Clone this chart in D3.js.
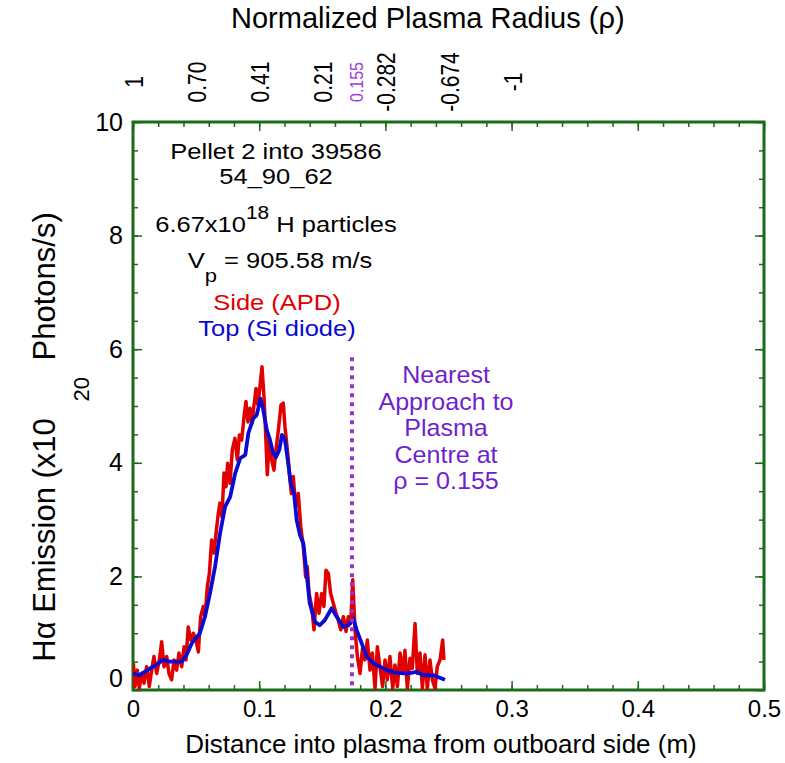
<!DOCTYPE html>
<html>
<head>
<meta charset="utf-8">
<script src="https://cdn.jsdelivr.net/npm/d3@7"></script>
<style>
  body { margin: 0; background: #fff; }
  text { font-family: Arial, "Liberation Sans", Helvetica, sans-serif; }
</style>
</head>
<body>
<script>
// Blue trace: Top (Si diode)
const blueDist = [0, 0.005, 0.016, 0.024, 0.029, 0.0386, 0.0425, 0.0465, 0.053, 0.057,
  0.061, 0.065, 0.069, 0.073, 0.077, 0.081, 0.085, 0.089, 0.0914, 0.0953,
  0.098, 0.101, 0.103, 0.106, 0.1086, 0.111, 0.1133, 0.116, 0.118, 0.1204,
  0.123, 0.125, 0.1276, 0.1297, 0.1323, 0.135, 0.1376, 0.14, 0.1442, 0.148,
  0.152, 0.1574, 0.1614, 0.1667, 0.1706, 0.1746, 0.1772, 0.1812, 0.1852, 0.1904,
  0.1983, 0.2063, 0.2169, 0.2248, 0.23, 0.238, 0.2472];
const blueVal = [0.29, 0.26, 0.41, 0.53, 0.50, 0.50, 0.62, 0.82, 1.0, 1.29,
  1.7, 2.17, 2.76, 3.23, 3.4, 3.82, 4.08, 4.14, 4.52, 4.78,
  4.84, 5.13, 4.96, 4.58, 4.4, 4.17, 4.1, 4.23, 4.49, 4.4,
  3.99, 3.64, 3.46, 2.99, 2.73, 2.58, 2.05, 1.53, 1.2, 1.14,
  1.23, 1.44, 1.29, 1.11, 1.14, 1.26, 1.06, 0.82, 0.59, 0.47,
  0.38, 0.31, 0.29, 0.32, 0.26, 0.26, 0.18];

// Red trace: Side (APD)
const redDist = [0.0003, 0.0016, 0.0034, 0.0050, 0.0069, 0.0087, 0.0108, 0.0129, 0.0148, 0.0166,
  0.0188, 0.0209, 0.0227, 0.0246, 0.0267, 0.0285, 0.0306, 0.0325, 0.0346, 0.0364,
  0.0386, 0.0404, 0.0420, 0.0438, 0.0457, 0.0478, 0.0499, 0.0518,
  0.0536, 0.0557, 0.0571, 0.0589, 0.0605, 0.0623, 0.0642, 0.0658, 0.0676, 0.0689,
  0.0705, 0.0721, 0.0737, 0.0750, 0.0769, 0.0787, 0.0808, 0.0827, 0.0843, 0.0861,
  0.0880, 0.0895, 0.0911, 0.0927, 0.0943, 0.0959, 0.0975, 0.0990, 0.1006, 0.1022,
  0.1038, 0.1051, 0.1064, 0.1080, 0.1099, 0.1117, 0.1133, 0.1152, 0.1173, 0.1191,
  0.1204, 0.1223, 0.1239, 0.1255, 0.1270, 0.1289, 0.1310, 0.1329, 0.1350, 0.1368,
  0.1381, 0.1395, 0.1416, 0.1434, 0.1455, 0.1474, 0.1495, 0.1513, 0.1529, 0.1548,
  0.1566, 0.1587, 0.1609, 0.1627, 0.1646, 0.1667, 0.1688, 0.1706, 0.1725, 0.1741,
  0.1759, 0.1778, 0.1799, 0.1820, 0.1838, 0.1857, 0.1878, 0.1896, 0.1918, 0.1936,
  0.1957, 0.1978, 0.1997, 0.2015, 0.2036, 0.2058, 0.2076, 0.2095, 0.2116, 0.2137,
  0.2155, 0.2174, 0.2195, 0.2213, 0.2235, 0.2253, 0.2274, 0.2293, 0.2314, 0.2332,
  0.2353, 0.2372, 0.2393, 0.2411, 0.2433, 0.2454, 0.2464];
const redVal = [0.47, 0.06, 0.35, 0.03, 0.29, 0.12, 0.41, 0.06, 0.35, 0.59,
  0.29, 0.53, 0.85, 0.41, 0.59, 0.29, 0.18, 0.53, 0.35, 0.65,
  0.41, 0.76, 0.53, 1.11, 0.88, 1.00, 0.88, 0.67,
  1.29, 1.47, 1.29, 1.82, 2.05, 2.64, 2.41, 2.76, 3.11, 3.29,
  3.05, 3.82, 3.58, 3.99, 3.64, 4.23, 4.43, 4.05, 4.49, 4.40,
  4.81, 5.08, 4.72, 4.96, 4.69, 5.02, 5.31, 5.02, 5.34, 5.69,
  5.16, 4.52, 3.79, 4.40, 4.05, 3.87, 4.23, 4.58, 5.02, 5.05,
  4.64, 4.23, 3.82, 3.46, 3.76, 3.23, 3.46, 2.88, 2.52, 1.99,
  2.17, 1.70, 1.47, 1.06, 1.70, 1.35, 1.70, 1.47, 2.11, 2.05,
  1.70, 1.53, 1.35, 1.23, 1.06, 1.29, 1.03, 1.29, 1.17, 1.94,
  1.06, 0.59, 0.29, 0.76, 0.53, 0.88, 0.35, 0.65, 0.03, 0.76,
  0.41, 0.06, 0.53, 0.18, 0.59, 0.03, 0.44, 0.06, 0.65, 0.29,
  0.70, 0.03, 0.56, 0.38, 1.17, 0.29, 0.65, 0.03, 0.62, 0.03,
  0.53, 0.18, 0.03, 0.41, 0.53, 0.88, 0.53];

const xTicks = [0, 0.1, 0.2, 0.3, 0.4, 0.5];
const yTicks = [0, 2, 4, 6, 8, 10];
// top axis: normalized radius at given distances
const rhoDist = [0, 0.05, 0.1, 0.15, 0.1735, 0.2, 0.25, 0.3];
const rhoLabels = ["1", "0.70", "0.41", "0.21", "0.155", "-0.282", "-0.674", "-1"];
const nearestDist = 0.1735;
const nearestTop = 5.86;

const W = 785, H = 763;
const green = "#1a6b1a";
const svg = d3.select("body").append("svg").attr("width", W).attr("height", H);

const x = d3.scaleLinear().domain([0, 0.5]).range([133, 764]);
const y = d3.scaleLinear().domain([0, 10]).range([690, 122]);
const minorX = d3.range(0, 0.5001, 0.02);
const minorY = d3.range(0, 10.001, 0.5);

svg.append("clipPath").attr("id", "clip")
  .append("rect").attr("x", 133).attr("y", 122).attr("width", 631).attr("height", 568);

function styleAxis(g) {
  g.select(".domain").remove();
  g.selectAll(".tick line").attr("stroke", green).attr("stroke-width", 1.5);
}

// minor ticks, all four sides
svg.append("g").attr("transform", "translate(0,690)")
  .call(d3.axisBottom(x).tickValues(minorX).tickSize(-5).tickFormat("")).call(styleAxis);
svg.append("g").attr("transform", "translate(0,122)")
  .call(d3.axisTop(x).tickValues(minorX).tickSize(-5).tickFormat("")).call(styleAxis);
svg.append("g").attr("transform", "translate(133,0)")
  .call(d3.axisLeft(y).tickValues(minorY).tickSize(-5).tickFormat("")).call(styleAxis);
svg.append("g").attr("transform", "translate(764,0)")
  .call(d3.axisRight(y).tickValues(minorY).tickSize(-5).tickFormat("")).call(styleAxis);

// major ticks + labels
const xAx = svg.append("g").attr("transform", "translate(0,690)")
  .call(d3.axisBottom(x).tickValues(xTicks).tickSize(-9).tickPadding(10).tickFormat(d3.format("")))
  .call(styleAxis);
xAx.selectAll("text").attr("font-size", 24).attr("fill", "#000");
svg.append("g").attr("transform", "translate(0,122)")
  .call(d3.axisTop(x).tickValues(xTicks).tickSize(-9).tickFormat("")).call(styleAxis);
const yAx = svg.append("g").attr("transform", "translate(133,0)")
  .call(d3.axisLeft(y).tickValues(yTicks).tickSize(-9).tickPadding(10).tickFormat(d3.format("d")))
  .call(styleAxis);
yAx.selectAll("text").attr("font-size", 25).attr("fill", "#000");
yAx.selectAll("text").filter(d => d === 0).attr("y", -12);
svg.append("g").attr("transform", "translate(764,0)")
  .call(d3.axisRight(y).tickValues(yTicks).tickSize(-9).tickFormat("")).call(styleAxis);

// frame
svg.append("rect").attr("x", 133).attr("y", 122).attr("width", 631).attr("height", 568)
  .attr("fill", "none").attr("stroke", green).attr("stroke-width", 3);

// data lines
const line = d3.line().x(d => x(d[0])).y(d => y(d[1]));
const plot = svg.append("g").attr("clip-path", "url(#clip)");
plot.append("path").datum(d3.zip(redDist, redVal))
  .attr("d", line).attr("fill", "none").attr("stroke", "#e00000")
  .attr("stroke-width", 3.5).attr("stroke-linejoin", "round");
plot.append("path").datum(d3.zip(blueDist, blueVal))
  .attr("d", line).attr("fill", "none").attr("stroke", "#0a0ad0")
  .attr("stroke-width", 3.8).attr("stroke-linejoin", "round");

// nearest approach marker
svg.append("line")
  .attr("x1", x(nearestDist)).attr("x2", x(nearestDist))
  .attr("y1", y(nearestTop)).attr("y2", y(0))
  .attr("stroke", "#9932cc").attr("stroke-width", 4).attr("stroke-dasharray", "4,5");

// top axis labels (rho), slightly wide glyphs like the original
svg.append("g").selectAll("text").data(rhoDist).join("text")
  .attr("transform", (d, i) => "translate(" + (x(d) + (i === 4 ? 11 : 10)) + ",82) scale(1.2,1) rotate(-90)")
  .attr("text-anchor", "middle")
  .attr("font-size", (d, i) => i === 4 ? 16 : 21)
  .attr("fill", (d, i) => i === 4 ? "#a040e0" : "#000")
  .text((d, i) => rhoLabels[i]);

svg.append("text").attr("x", 231).attr("y", 28)
  .attr("font-size", 29).text("Normalized Plasma Radius (\u03c1)");

svg.append("text").attr("x", 441).attr("y", 753).attr("text-anchor", "middle")
  .attr("font-size", 26).text("Distance into plasma from outboard side (m)");

// y axis title
const yt = svg.append("text").attr("transform", "translate(55,437) rotate(-90)")
  .attr("text-anchor", "middle").attr("font-size", 31);
yt.append("tspan").text("H\u03b1 Emission (x10 ");
yt.append("tspan").attr("font-size", 22).attr("dy", 34).attr("dx", 8).text("20");
yt.append("tspan").attr("dy", -34).attr("dx", 8).text(" Photons/s)");

// annotations
function note(cx, yp, size, sx, color) {
  return svg.append("text")
    .attr("transform", "translate(" + cx + "," + yp + ") scale(" + sx + ",1)")
    .attr("text-anchor", "middle").attr("font-size", size).attr("fill", color || "#000");
}
note(276, 159, 22, 1.16).text("Pellet 2 into 39586");
note(276, 184, 22, 1.16).text("54_90_62");
const t3 = note(276, 232, 22, 1.16);
t3.append("tspan").text("6.67x10");
t3.append("tspan").attr("font-size", 18).attr("dy", -13).text("18");
t3.append("tspan").attr("dy", 13).text(" H particles");
const t4 = note(280, 268, 22, 1.16);
t4.append("tspan").text("V");
t4.append("tspan").attr("font-size", 19).attr("dy", 14).text("p");
t4.append("tspan").attr("dy", -14).text(" = 905.58 m/s");
note(277, 310, 22, 1.16, "#e00000").text("Side (APD)");
note(277, 336, 22, 1.16, "#0a0ad0").text("Top (Si diode)");

const nearLines = ["Nearest", "Approach to", "Plasma", "Centre at", "\u03c1 = 0.155"];
nearLines.forEach((s, i) => note(446, 383 + i * 26.5, 23, 1.09, "#6f1fd0").text(s));
</script>
</body>
</html>
